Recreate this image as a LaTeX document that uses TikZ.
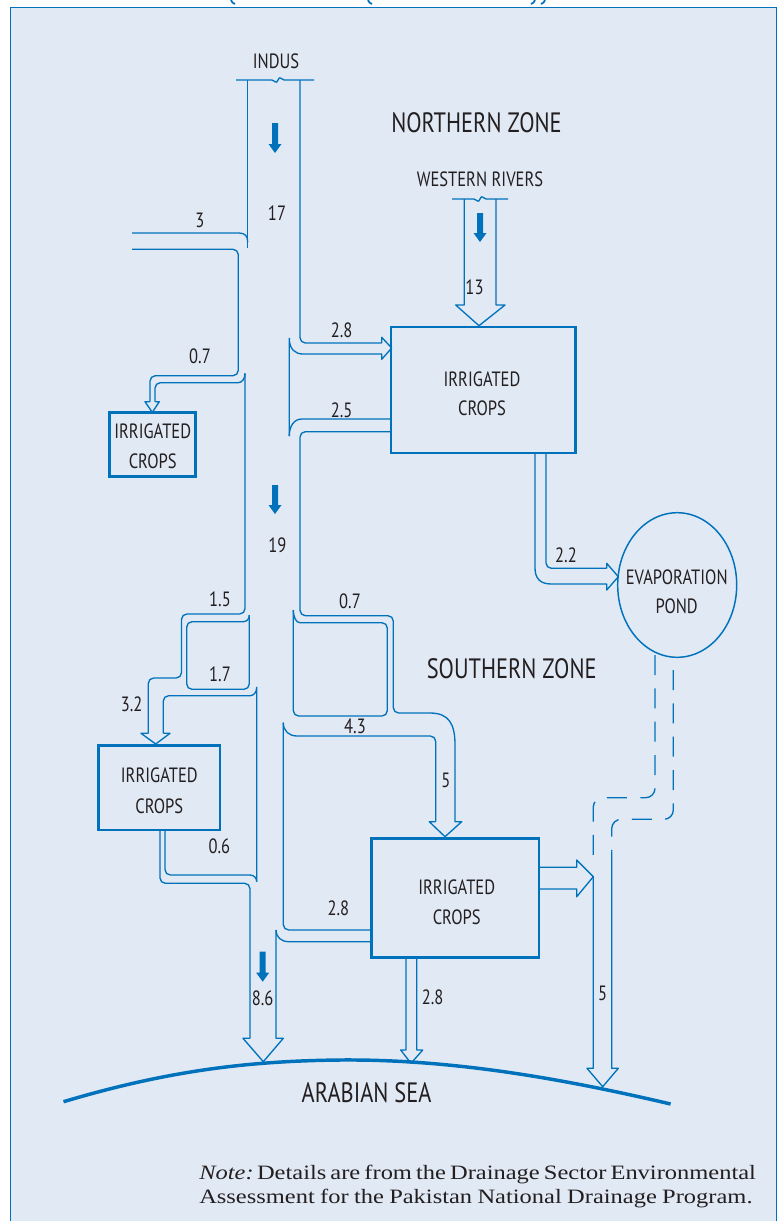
\documentclass[tikz,border=0pt]{standalone}
\usepackage{fontspec}
\setmainfont{Liberation Serif}
\newfontfamily\lf[FakeStretch=0.8]{PT Sans}
\newfontfamily\notef[FakeStretch=1.2]{Liberation Serif}
\usetikzlibrary{shapes.geometric}
\definecolor{bl}{HTML}{0072BC}
\definecolor{pan}{HTML}{E1E9F5}
\definecolor{ink}{HTML}{231F20}
\tikzset{
  pipe/.style={draw=bl, line width=1pt, line join=round},
  rpipe/.style={pipe, rounded corners=4pt},
  dpipe/.style={pipe, rounded corners=7pt, dash pattern=on 15pt off 10pt},
  box/.style={draw=bl, line width=2pt, inner sep=0pt},
  lbl/.style={text=ink, font=\lf\fontsize{15.5}{18}\selectfont, inner sep=0pt},
  zone/.style={text=ink, font=\lf\fontsize{21}{24}\selectfont, inner sep=0pt},
  flowfill/.style={fill=bl, draw=none},
  notefont/.style={text=ink, font=\notef\fontsize{15.3}{18}\selectfont, inner sep=0pt, anchor=base west},
}
\newcommand\flowdn[3]{\fill[flowfill] ({#1-3},#2) -- ({#1+3},#2) -- ({#1+3},{#3-9}) -- ({#1+6.5},{#3-9}) -- (#1,#3) -- ({#1-6.5},{#3-9}) -- ({#1-3},{#3-9}) -- cycle;}
\begin{document}
\begin{tikzpicture}[x=0.75pt,y=-0.75pt]
\useasboundingbox (0,0) rectangle (778,1221);
\fill[white] (0,0) rectangle (778,1221);
\fill[pan] (10.7,7.3) rectangle (776.7,1221);
\draw[bl, line width=1pt] (10.7,1221) -- (10.7,7.3) -- (776.7,7.3) -- (776.7,1221);
% title fragments
\draw[bl, line width=1.3pt] (231,0) .. controls (231.5,2) and (233,3.5) .. (235,4);
\draw[bl, line width=1.3pt] (368,0) .. controls (368.5,2) and (370,3.5) .. (372,4);
\draw[bl, line width=1.3pt] (535,0) .. controls (534.5,2) and (533,3.5) .. (531,4);
\draw[bl, line width=1.3pt] (545,0) .. controls (544.5,2) and (543,3.5) .. (541,4);

% boxes
\node[box, minimum width=138.5pt, minimum height=94.5pt] (B1) at (483.35,390) {};
\node[box, minimum width=64.8pt, minimum height=48.3pt] (B2) at (152.5,444.5) {};
\node[box, minimum width=91.3pt, minimum height=63.2pt] (B3) at (159.15,787.85) {};
\node[box, minimum width=125.5pt, minimum height=89.25pt] (B4) at (455.35,897.8) {};
\node[draw=bl, line width=1.1pt, ellipse, minimum width=89.25pt, minimum height=108.45pt, inner sep=0pt] (pond) at (677.2,585) {};

% Indus
\draw[pipe] (236,80) -- (272,80) .. controls (275,80) and (276,85) .. (278,80) .. controls (280,75) and (281,80) .. (284,80) -- (314,80);
\draw[pipe] (247.7,80) -- (247.7,248.3);
\draw[pipe] (132,233) -- (239,233) .. controls (245,233) and (247.7,236) .. (247.7,242);
\draw[rpipe] (132,249.3) -- (238.3,249.3) -- (238.3,375.7) -- (150,375.7) -- (150,401.7);
\draw[pipe] (150,401.7) -- (145,401.7) -- (152.3,412.3) -- (159.3,401.7) -- (155,401.7);
\draw[rpipe] (155,401.7) -- (155,382.7) -- (238,382.7);
\draw[pipe] (238,382.7) .. controls (242,382.7) and (245,379) .. (245,373.3);
\draw[rpipe] (245,373.3) -- (245,614) -- (181.5,614) -- (181.5,678) -- (148.3,678) -- (148.3,733.3);
\draw[pipe] (148.3,733.3) -- (141,733.3) -- (155.7,744) -- (170,733.3) -- (163.3,733.3);
\draw[rpipe] (163.3,733.3) -- (163.3,695.7) -- (250,695.7);
\draw[pipe] (250,695.7) .. controls (254,695.7) and (256.7,692) .. (256.7,687.3) -- (256.7,881.7);
% loop 1.5 / 1.7
\draw[rpipe] (249.3,615) -- (249.3,689.3) -- (186.7,689.3) -- (186.7,621.7) -- (243,621.7);
\draw[pipe] (243,621.7) .. controls (247,621.7) and (249.3,619) .. (249.3,615);
% 0.6 and 8.6
\draw[rpipe] (165,830) -- (165,875) -- (250,875);
\draw[pipe] (250,875) .. controls (254,875) and (256.7,878) .. (256.7,881.7);
\draw[rpipe] (160,830) -- (160,883.3) -- (250,883.3) -- (250,1038.3);
\draw[pipe] (250,1038.3) -- (243,1038.3) -- (263.3,1061.7) -- (283.3,1038.3) -- (276,1038.3) -- (276,930);
\draw[pipe] (276,930) .. controls (276,937) and (281,941.7) .. (289,941.7) -- (371.7,941.7);

% right side of Indus
\draw[rpipe] (300,80) -- (300,343) -- (381.7,343);
\draw[pipe] (381.7,343) -- (381.7,337.3) -- (391.7,348) -- (381.7,359.3) -- (381.7,354) -- (303,354) .. controls (295,354) and (289.3,349) .. (289.3,338.3) -- (289.3,436);
\draw[pipe] (391,419) -- (302,419) .. controls (294,419) and (289.3,426) .. (289.3,436);
\draw[rpipe] (391,431.7) -- (300,431.7) -- (300,615.7) -- (393.3,615.7) -- (393.3,713) -- (430,713);
\draw[pipe] (430,713) .. controls (449,713) and (455,724) .. (455,745) -- (455,821.7) -- (461.7,821.7) -- (445,836.7) -- (429.3,821.7) -- (435.7,821.7);
\draw[rpipe] (435.7,821.7) -- (435.7,736) -- (297,736);
\draw[pipe] (297,736) .. controls (289,736) and (283.3,731) .. (283.3,722.7);
\draw[rpipe] (283.3,722.7) -- (283.3,930) -- (371.7,930);
% loop 0.7 / 4.3
\draw[rpipe] (293.3,610) -- (293.3,716) -- (387.3,716) -- (387.3,622.7) -- (300,622.7);
\draw[pipe] (300,622.7) .. controls (296,622.7) and (293.3,617) .. (293.3,610);

% Western rivers
\draw[pipe] (452,199) -- (474,199) .. controls (477,199) and (478,204) .. (480,199) .. controls (482,194) and (483,199) .. (486,199) -- (508,199);
\draw[pipe] (464.3,199) -- (464.3,305) -- (455.7,305) -- (479,325.7) -- (505,305) -- (496,305) -- (496,199);

% 2.2 to pond
\draw[pipe] (535,453.3) -- (535,568) .. controls (535,578) and (540,584) .. (551,584) -- (606.7,584) -- (606.7,590) -- (618.3,576.7) -- (606.7,563.3) -- (606.7,568.3);
\draw[rpipe] (606.7,568.3) -- (546,568.3) -- (546,453.3);

% dashed from pond
\draw[dpipe] (655,655) -- (655,797.7) -- (593.3,797.7) -- (593.3,862);
\draw[dpipe] (673.3,670) -- (673.3,819.3) -- (611.7,819.3) -- (611.7,851.7);

% outflows of lower box
\draw[pipe] (539,867.3) -- (576.7,867.3) -- (576.7,860) -- (593.3,876.7) -- (576.7,896.7) -- (576.7,889) -- (539,889);
\draw[pipe] (593.3,876.7) -- (593.3,1068.3) -- (587,1068.3) -- (602.7,1086.7) -- (618.3,1068.3) -- (611.7,1068.3) -- (611.7,851.7);
\draw[pipe] (406,957.3) -- (406,1050) -- (400.7,1050) -- (411,1063.3) -- (422.7,1050) -- (416.7,1050) -- (416.7,957.3);

% sea
\draw[bl, line width=2.6pt] (63.5,1101.7) .. controls (170,1070) and (250,1061) .. (340,1060) .. controls (450,1059) and (560,1078) .. (670.6,1104);

% flow arrows
\flowdn{275}{123}{153}
\flowdn{480}{213}{242}
\flowdn{275}{485}{514}
\flowdn{262.7}{951.7}{981.7}

% labels
\node[lbl] (tIndus) at (276,61) {INDUS};
\node[zone] (tNorth) at (476.5,122.5) {NORTHERN ZONE};
\node[lbl] (tWest) at (480,179) {WESTERN RIVERS};
\node[zone] (tSouth) at (511.7,668.3) {SOUTHERN ZONE};
\node[zone] (tSea) at (366.6,1093) {ARABIAN SEA};
\node[lbl] (l3) at (200,220) {3};
\node[lbl] (l17) at (277,213) {17};
\node[lbl] (l07a) at (200,356.7) {0.7};
\node[lbl] (l28a) at (341.7,330) {2.8};
\node[lbl] (l25) at (341.7,410) {2.5};
\node[lbl] (l13) at (474.5,287) {13};
\node[lbl] (b1a) at (482,379) {IRRIGATED};
\node[lbl] (b1b) at (482,408) {CROPS};
\node[lbl] (b2a) at (152.7,431.7) {IRRIGATED};
\node[lbl] (b2b) at (152.7,461.7) {CROPS};
\node[lbl] (l19) at (277.3,545.7) {19};
\node[lbl] (l22) at (566,555) {2.2};
\node[lbl] (pa) at (676.7,577.3) {EVAPORATION};
\node[lbl] (pb) at (676.7,606.7) {POND};
\node[lbl] (l15) at (220,599.3) {1.5};
\node[lbl] (l07b) at (350,601) {0.7};
\node[lbl] (l17b) at (220,674) {1.7};
\node[lbl] (l32) at (131.7,704) {3.2};
\node[lbl] (l43) at (355,726.7) {4.3};
\node[lbl] (l5a) at (446,780) {5};
\node[lbl] (b3a) at (159.3,775) {IRRIGATED};
\node[lbl] (b3b) at (159.3,806) {CROPS};
\node[lbl] (l06) at (219.3,846.7) {0.6};
\node[lbl] (b4a) at (456.7,887.3) {IRRIGATED};
\node[lbl] (b4b) at (456.7,917.3) {CROPS};
\node[lbl] (l28b) at (338.3,908.3) {2.8};
\node[lbl] (l86) at (262.7,998.3) {8.6};
\node[lbl] (l28c) at (432.7,997.7) {2.8};
\node[lbl] (l5b) at (602.7,993.3) {5};

% note
\node[notefont] (n1) at (199,1179.3) {\makebox[416pt][s]{\textit{Note:}\,Details are from the Drainage Sector Environmental}};
\node[notefont] (n2) at (199,1203.3) {\makebox[415pt][s]{Assessment for the Pakistan National Drainage Program.}};
\end{tikzpicture}
\end{document}
